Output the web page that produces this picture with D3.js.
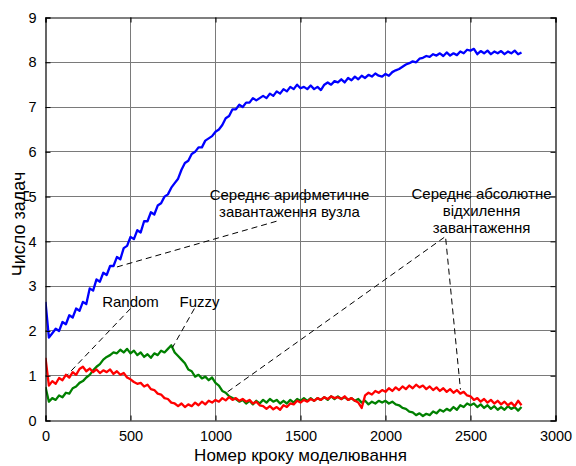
<!DOCTYPE html>
<html><head><meta charset="utf-8">
<script src="https://cdn.jsdelivr.net/npm/d3@7"></script>
<style>
body{margin:0;background:#fff}
text{font-family:"Liberation Sans",Arial,sans-serif;fill:#000}
</style>
</head><body>
<svg id="c" width="576" height="466"></svg>
<script>
// simulation step of each sample (every 20 steps)
const sampleStep = 20;
// Mean node load (blue)
const meanLoad = [2.65,1.85,1.95,2.05,2.0,2.2,2.15,2.35,2.3,2.5,
2.45,2.65,2.6,2.95,2.9,3.15,3.1,3.3,3.25,3.45,
3.45,3.65,3.6,3.85,3.9,4.1,4.05,4.25,4.2,4.45,
4.45,4.65,4.6,4.8,4.85,5.0,5.05,5.2,5.3,5.4,
5.6,5.75,5.8,5.95,6.0,6.1,6.1,6.25,6.3,6.35,
6.45,6.5,6.6,6.75,6.8,6.95,6.95,7.05,7.0,7.1,
7.1,7.2,7.15,7.2,7.25,7.2,7.3,7.25,7.35,7.3,
7.4,7.35,7.45,7.4,7.5,7.42,7.45,7.4,7.48,7.4,
7.45,7.38,7.5,7.55,7.5,7.58,7.55,7.62,7.55,7.65,
7.6,7.68,7.62,7.7,7.65,7.72,7.68,7.75,7.7,7.68,
7.74,7.7,7.78,7.82,7.85,7.9,7.95,7.98,8.02,8.0,
8.08,8.1,8.14,8.12,8.18,8.15,8.2,8.14,8.22,8.15,
8.2,8.16,8.24,8.2,8.28,8.26,8.3,8.18,8.25,8.2,
8.26,8.18,8.24,8.2,8.25,8.18,8.24,8.2,8.26,8.18,
8.22];
// Mean absolute deviation, Fuzzy (green)
const fuzzyDev = [0.75,0.42,0.5,0.46,0.56,0.52,0.62,0.6,0.72,0.76,
0.84,0.88,0.96,1.02,1.12,1.2,1.26,1.36,1.42,1.46,
1.52,1.5,1.58,1.52,1.6,1.5,1.56,1.46,1.52,1.42,
1.48,1.4,1.5,1.46,1.56,1.52,1.6,1.68,1.52,1.44,
1.36,1.28,1.14,1.1,0.98,1.02,0.94,0.98,0.9,0.96,
0.84,0.78,0.66,0.62,0.54,0.5,0.48,0.42,0.46,0.38,
0.44,0.36,0.44,0.38,0.46,0.4,0.48,0.42,0.46,0.38,
0.44,0.38,0.46,0.4,0.48,0.44,0.5,0.44,0.5,0.44,
0.5,0.46,0.52,0.46,0.54,0.48,0.54,0.48,0.52,0.46,
0.5,0.44,0.48,0.4,0.44,0.36,0.42,0.38,0.44,0.4,
0.44,0.38,0.42,0.36,0.34,0.28,0.26,0.2,0.18,0.12,
0.16,0.1,0.15,0.12,0.2,0.16,0.24,0.2,0.26,0.22,
0.3,0.24,0.34,0.3,0.38,0.34,0.38,0.3,0.36,0.28,
0.34,0.26,0.32,0.24,0.3,0.24,0.32,0.26,0.3,0.22,
0.3];
// Mean absolute deviation, Random (red)
const randomDev = [1.4,0.78,0.88,0.82,0.95,0.9,1.02,0.96,1.08,1.02,
1.15,1.2,1.1,1.16,1.08,1.14,1.06,1.12,1.08,1.14,
1.04,1.1,1.02,1.06,0.96,0.92,0.86,0.82,0.84,0.76,
0.8,0.7,0.68,0.6,0.58,0.5,0.48,0.4,0.38,0.32,
0.38,0.3,0.36,0.32,0.4,0.34,0.42,0.36,0.44,0.4,
0.46,0.42,0.5,0.45,0.52,0.46,0.5,0.44,0.48,0.42,
0.46,0.38,0.42,0.34,0.32,0.26,0.32,0.25,0.3,0.24,
0.34,0.3,0.38,0.36,0.44,0.4,0.46,0.42,0.48,0.44,
0.5,0.46,0.52,0.48,0.54,0.5,0.52,0.48,0.54,0.46,
0.5,0.44,0.4,0.28,0.56,0.62,0.58,0.66,0.62,0.68,
0.64,0.72,0.66,0.74,0.68,0.76,0.7,0.78,0.72,0.8,
0.74,0.78,0.7,0.76,0.68,0.74,0.66,0.72,0.64,0.7,
0.62,0.68,0.6,0.64,0.56,0.54,0.46,0.5,0.42,0.48,
0.4,0.46,0.38,0.44,0.36,0.42,0.34,0.4,0.32,0.44,
0.34];

const xTicks = [0,500,1000,1500,2000,2500,3000];
const yTicks = [0,1,2,3,4,5,6,7,8,9];
const xLabel = "Номер кроку моделювання";
const yLabel = "Число задач";

// annotations in data coordinates
const annoTexts = [
  {x:1435, y:4.92, lines:["Середнє арифметичне","завантаження вузла"]},
  {x:2565, y:4.95, lines:["Середнє абсолютне","відхилення","завантаження"]},
  {x:500,  y:2.53, lines:["Random"]},
  {x:906,  y:2.53, lines:["Fuzzy"]}
];
const annoLines = [
  [[1359,4.45],[412,3.42]],
  [[1071,0.64],[2353,4.11],[2441,0.69]],
  [[500,2.5],[129,1.02]],
  [[876,2.5],[747,1.63]]
];

const margin = {left:45.5, top:17.5};
const W = 510, H = 403;
const svg = d3.select("#c");
const g = svg.append("g").attr("transform",`translate(${margin.left},${margin.top})`);
const x = d3.scaleLinear().domain([0,3000]).range([0,W]);
const y = d3.scaleLinear().domain([0,9]).range([H,0]);

// grid
g.append("g").selectAll("line").data(xTicks.slice(1,-1)).join("line")
  .attr("x1",d=>Math.round(x(d))).attr("x2",d=>Math.round(x(d))).attr("y1",0).attr("y2",H)
  .attr("stroke","#7a7a7a").attr("stroke-width",1);
g.append("g").selectAll("line").data(yTicks.slice(1,-1)).join("line")
  .attr("y1",d=>Math.round(y(d))).attr("y2",d=>Math.round(y(d))).attr("x1",0).attr("x2",W)
  .attr("stroke","#7a7a7a").attr("stroke-width",1);

// data
const line = d3.line().x((d,i)=>x(i*sampleStep)).y(d=>y(d));
svg.append("clipPath").attr("id","pc").append("rect").attr("x",0).attr("y",0).attr("width",W).attr("height",H);
const lg = g.append("g").attr("clip-path","url(#pc)");
lg.append("path").datum(meanLoad).attr("d",line).attr("fill","none").attr("stroke","#0000ff").attr("stroke-width",2.3).attr("stroke-linejoin","round");
lg.append("path").datum(fuzzyDev).attr("d",line).attr("fill","none").attr("stroke","#008000").attr("stroke-width",2.3).attr("stroke-linejoin","round");
lg.append("path").datum(randomDev).attr("d",line).attr("fill","none").attr("stroke","#ff0000").attr("stroke-width",2.3).attr("stroke-linejoin","round");

// axes (MATLAB-like box with inner ticks)
const tickFmt = d3.format("d");
const axB = g.append("g").attr("transform",`translate(0,${H})`)
  .call(d3.axisBottom(x).tickValues(xTicks).tickSize(-5).tickPadding(10).tickFormat(tickFmt));
const axT = g.append("g").call(d3.axisTop(x).tickValues(xTicks).tickSize(-5).tickFormat(""));
const axL = g.append("g").call(d3.axisLeft(y).tickValues(yTicks).tickSize(-5).tickPadding(9).tickFormat(tickFmt));
const axR = g.append("g").attr("transform",`translate(${W},0)`)
  .call(d3.axisRight(y).tickValues(yTicks).tickSize(-5).tickFormat(""));
[axB,axT,axL,axR].forEach(a=>{
  a.select(".domain").attr("stroke","#000").attr("stroke-width",1.2);
  a.selectAll(".tick line").attr("stroke","#000");
  a.selectAll("text").attr("font-size","14.5px").attr("font-family","'Liberation Sans',Arial,sans-serif").attr("fill","#000");
});

// annotations
const dashLine = d3.line().x(d=>x(d[0])).y(d=>y(d[1]));
g.append("g").selectAll("path").data(annoLines).join("path")
  .attr("d",dashLine).attr("fill","none").attr("stroke","#000").attr("stroke-width",1)
  .attr("stroke-dasharray","6,4");
annoTexts.forEach(a=>{
  const t = g.append("text").attr("x",x(a.x)).attr("y",y(a.y)).attr("text-anchor","middle").attr("font-size","15px");
  a.lines.forEach((l,i)=>{
    t.append("tspan").attr("x",x(a.x)).attr("dy",i===0?0:17.2).text(l);
  });
});

// axis labels
svg.append("text").attr("x",margin.left+W/2).attr("y",461).attr("text-anchor","middle")
  .attr("font-size","17px").text(xLabel);
svg.append("text").attr("transform",`translate(25,224) rotate(-90)`).attr("text-anchor","middle")
  .attr("font-size","18px").text(yLabel);
</script>
</body></html>
